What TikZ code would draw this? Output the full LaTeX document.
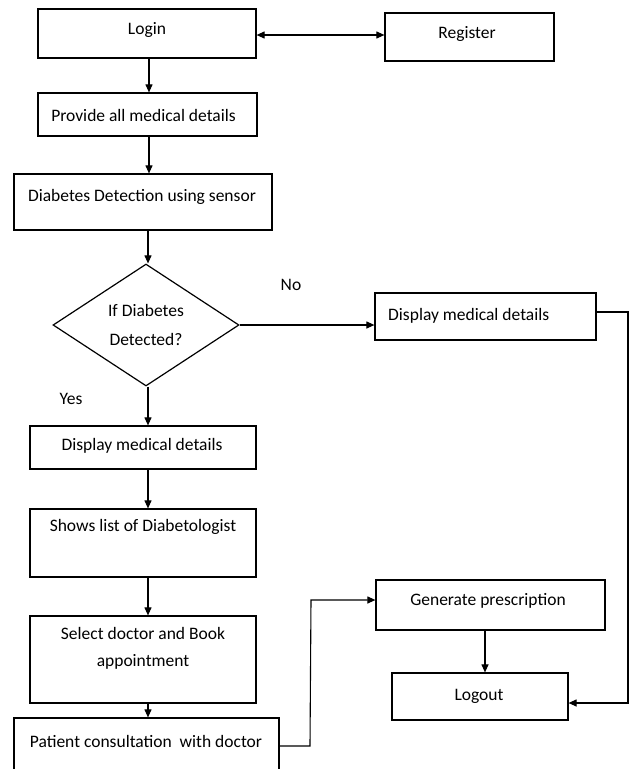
\documentclass[tikz,border=0pt]{standalone}
\usepackage{fontspec}
\setmainfont{Carlito}
\usetikzlibrary{shapes.geometric,arrows.meta}
\begin{document}
\begin{tikzpicture}[x=1pt,y=-1pt,
  every node/.style={font=\fontsize{17.5}{20}\selectfont},
  box/.style={draw,line width=1.2pt,inner sep=0pt,rectangle},
  txt/.style={inner sep=0pt},
  conn/.style={line width=1.1pt},
  arr/.style={conn,-{Triangle[length=8pt,width=7pt]}},
  darr/.style={conn,{Triangle[length=8pt,width=7pt]}-{Triangle[length=8pt,width=7pt]}}]
\useasboundingbox (0,0) rectangle (632,769);
% boxes
\node[box,minimum width=218pt,minimum height=49pt] (login) at (147,33.5) {};
\node[txt] (logintxt) at (147,30) {Login};
\node[box,minimum width=169pt,minimum height=48pt] (reg) at (469.5,37) {};
\node[txt] (regtxt) at (467,34) {Register};
\node[box,minimum width=219pt,minimum height=43pt] (prov) at (147.5,114.5) {};
\node[txt] (provtxt) at (143.5,115) {Provide all medical details};
\node[box,minimum width=258pt,minimum height=56pt] (det) at (143,202) {};
\node[txt] (dettxt) at (142,197) {Diabetes Detection using sensor};
\node[draw,line width=1.2pt,diamond,inner sep=0pt,minimum width=186pt,minimum height=122pt,align=center,
      font=\fontsize{17.5}{29}\selectfont] (dia) at (146,325) {If Diabetes\\Detected?};
\node[box,minimum width=221pt,minimum height=47pt] (dispr) at (485.5,316.5) {};
\node[txt,anchor=west] (disprtxt) at (388,316) {Display medical details};
\node[box,minimum width=226pt,minimum height=43pt] (displ) at (143,447.5) {};
\node[txt] (displtxt) at (142,446) {Display medical details};
\node[box,minimum width=226pt,minimum height=68pt] (shows) at (143,543) {};
\node[txt] (showstxt) at (143,527) {Shows list of Diabetologist};
\node[box,minimum width=226pt,minimum height=87pt] (sel) at (143,659.5) {};
\node[txt,align=center,font=\fontsize{17.5}{27}\selectfont] (seltxt) at (143,648) {Select doctor and Book\\appointment};
\node[box,minimum width=265pt,minimum height=64pt] (pat) at (146.5,750) {};
\node[txt] (pattxt) at (146,741) {Patient consultation\ \ with doctor};
\node[box,minimum width=229pt,minimum height=50pt] (gen) at (490.5,605) {};
\node[txt] (gentxt) at (488,601) {Generate prescription};
\node[box,minimum width=176pt,minimum height=47pt] (logout) at (480,696.5) {};
\node[txt] (logouttxt) at (479,696) {Logout};
% labels
\node[txt] (no) at (291,285) {No};
\node[txt] (yes) at (71,399) {Yes};
% connectors
\draw[darr] (login.east |- 0,35) -- (reg.west |- 0,35);
\draw[arr] (login.south -| 149,0) -- (prov.north -| 149,0);
\draw[arr] (prov.south -| 149,0) -- (det.north -| 149,0);
\draw[arr] (det.south -| 148,0) -- (dia.north -| 148,0);
\draw[arr] (dia.east) -- (dia.east -| dispr.west);
\draw[arr] (dia.south -| 148,0) -- (displ.north -| 148,0);
\draw[arr] (displ.south -| 148,0) -- (shows.north -| 148,0);
\draw[arr] (shows.south -| 148,0) -- (sel.north -| 148,0);
\draw[arr] (sel.south -| 148,0) -- (pat.north -| 148,0);
\coordinate (pc1) at (310,746);
\coordinate (pc2) at (311,600);
\draw[arr] (pat.east |- pc1) -- (pc1) -- (pc2) -- (gen.west |- pc2);
\draw[arr] (gen.south -| 485,0) -- (logout.north -| 485,0);
\coordinate (rc1) at (628,312);
\coordinate (rc2) at (628,703);
\draw[arr] (dispr.east |- rc1) -- (rc1) -- (rc2) -- (logout.east |- rc2);
\end{tikzpicture}
\end{document}
